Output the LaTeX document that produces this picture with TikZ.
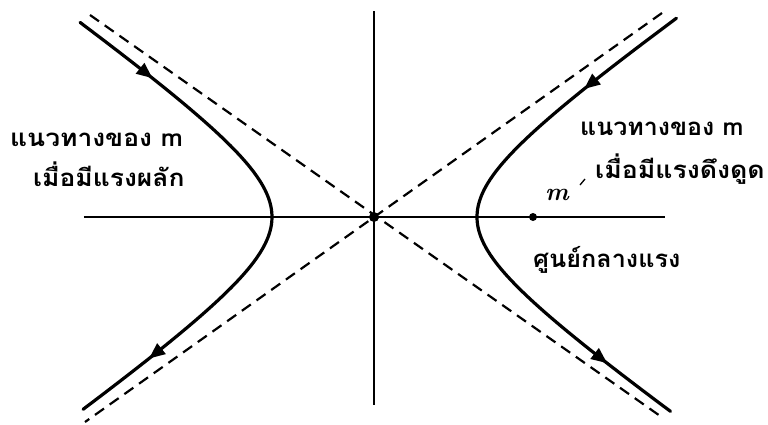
\documentclass[tikz,border=0pt]{standalone}
\usepackage{fontspec}
\newfontfamily\thaifont[Script=Thai]{Loma}
\newcommand{\thaitxt}[2]{\scalebox{#1}[1]{\thaifont\bfseries\fontsize{24}{27}\selectfont #2}}
\usetikzlibrary{decorations.markings,arrows.meta}
\begin{document}
\begin{tikzpicture}[x=1pt,y=1pt,
  thai/.style={inner sep=0pt, anchor=base west},
  axisline/.style={line width=2.2pt},
  asym/.style={line width=2.2pt, dash pattern=on 11pt off 7pt},
  traj/.style={line width=3.2pt, line cap=round},
]
\useasboundingbox (-374,-207) rectangle (394,217);
\coordinate (O) at (0,0);
\coordinate (xl) at (-290,0);
\coordinate (xr) at (291,0);
\coordinate (yt) at (0,206);
\coordinate (yb) at (0,-188);
\coordinate (a1) at (-284,202);
\coordinate (a2) at (289,-201);
\coordinate (b1) at (288,204);
\coordinate (b2) at (-289,-205);
\coordinate (t1) at (206,32);
\coordinate (t2) at (211,38);
% axes
\draw[axisline] (xl) -- (xr);
\draw[axisline] (yt) -- (yb);
% asymptotes
\draw[asym] (a1) -- (a2);
\draw[asym] (b1) -- (b2);
% trajectories
\draw[traj, postaction={decorate}, decoration={markings,
   mark=at position 0.165 with {\arrow{Triangle[length=16pt,width=13pt]}},
   mark=at position 0.85 with {\arrow{Triangle[length=16pt,width=13pt]}}}]
  plot[domain=-1.72:1.71, samples=90, variable=\t] ({-102*cosh(\t)},{-72*sinh(\t)});
\draw[traj, postaction={decorate}, decoration={markings,
   mark=at position 0.205 with {\arrow{Triangle[length=16pt,width=13pt]}},
   mark=at position 0.86 with {\arrow{Triangle[length=16pt,width=13pt]}}}]
  plot[domain=-1.74:1.72, samples=90, variable=\t] ({103*cosh(\t)},{-72*sinh(\t)});
% centre and mass point
\fill (O) circle (5pt);
\node[circle, fill, inner sep=0pt, minimum size=8pt] (mass) at (159,0) {};
\node (mlabel) at (183,22) {\fontsize{25}{25}\selectfont\bfseries\itshape m};
\draw[line width=1.3pt] (t1) -- (t2);
% labels
\node[thai] (l1) at (-364,71) {\thaitxt{1.1}{แนวทางของ m}};
\node[thai] (l2) at (-341,31) {\thaitxt{1.1}{เมื่อมีแรงผลัก}};
\node[thai] (r1) at (206,82) {\thaitxt{1.04}{แนวทางของ m}};
\node[thai] (r2) at (221,39) {\thaitxt{1.11}{เมื่อมีแรงดึงดูด}};
\node[thai] (r3) at (159,-50) {\thaitxt{1.05}{ศูนย์กลางแรง}};
\end{tikzpicture}
\end{document}
